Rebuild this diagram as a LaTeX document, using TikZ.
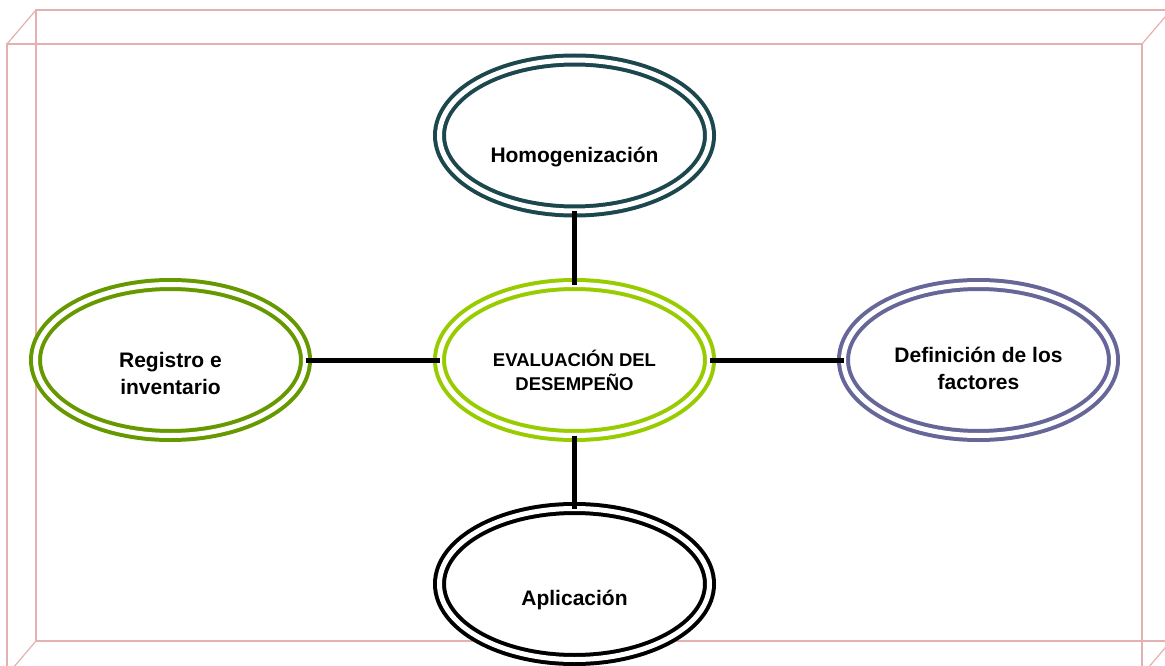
\documentclass[tikz,border=0pt]{standalone}
\usepackage{fontspec}
\setmainfont{Liberation Sans}
\usetikzlibrary{shapes.geometric,calc}
\definecolor{framepink}{HTML}{E4B0B0}
\definecolor{tealc}{HTML}{1B474D}
\definecolor{limec}{HTML}{99CC00}
\definecolor{olivec}{HTML}{669900}
\definecolor{purplec}{HTML}{666699}
\tikzset{
  oval/.style={ellipse, draw=#1, fill=white, line width=4pt, double=white,
    double distance=5pt, minimum width=270pt, minimum height=151pt,
    inner sep=0pt, outer sep=0pt},
  bigtxt/.style={font=\bfseries\fontsize{21}{27}\selectfont, align=center, inner sep=0pt},
  midtxt/.style={font=\bfseries\fontsize{18.5}{24}\selectfont, align=center, inner sep=0pt},
  conn/.style={line width=5pt, black},
  frameline/.style={draw=framepink, line width=1.2pt}
}
\begin{document}
\begin{tikzpicture}[x=1pt,y=-1pt]
\useasboundingbox (0,0) rectangle (1165,666);
\begin{scope}
\clip (0,0) rectangle (1165,666);
% 3D frame
\draw[frameline] (7,44) rectangle (1142,675);
\draw[frameline] (36,10) rectangle (1171,641);
\draw[frameline] (7,44) -- (36,10);
\draw[frameline] (1142,44) -- (1171,10);
\draw[frameline] (7,675) -- (36,641);
\draw[frameline] (1142,675) -- (1171,641);
\end{scope}
% ellipses
\node[oval=tealc]   (top)   at (574.5,135.5) {};
\node[oval=limec]   (mid)   at (574.5,360) {};
\node[oval=olivec]  (left)  at (170.5,360) {};
\node[oval=purplec] (right) at (978.5,360) {};
\node[oval=black]   (bot)   at (574.5,584) {};
% texts
\node[bigtxt] (ttop)   at ($(top.center)+(0,21.5)$)  {Homogenización};
\node[midtxt] (tmid)   at ($(mid.center)+(0,10.5)$)  {EVALUACIÓN DEL\\DESEMPEÑO};
\node[bigtxt] (tleft)  at ($(left.center)+(0,13)$)   {Registro e\\inventario};
\node[bigtxt] (tright) at ($(right.center)+(0,8.5)$) {Definición de los\\factores};
\node[bigtxt] (tbot)   at ($(bot.center)+(0,16)$)    {Aplicación};
% connectors
\draw[conn] (top.south) -- (mid.north);
\draw[conn] (mid.south) -- (bot.north);
\draw[conn] (left.east) -- (mid.west);
\draw[conn] (mid.east) -- (right.west);
\end{tikzpicture}
\end{document}
